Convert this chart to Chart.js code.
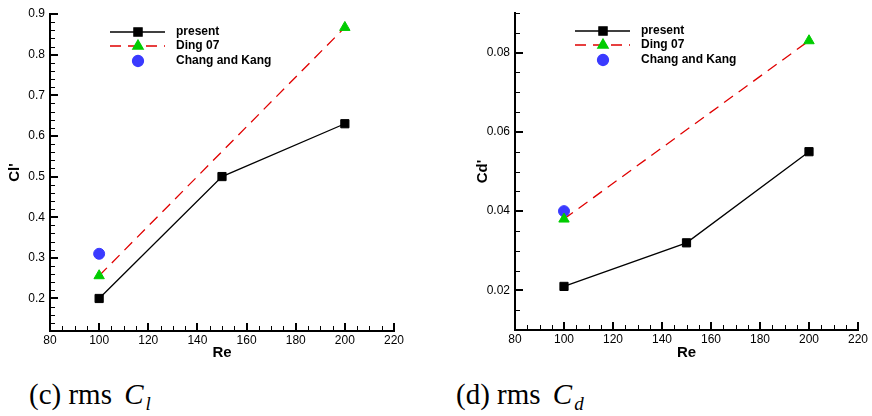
<!DOCTYPE html>
<html>
<head>
<meta charset="utf-8">
<script src="https://cdn.jsdelivr.net/npm/chart.js@4.4.0/dist/chart.umd.min.js"></script>
<style>
    html, body { margin: 0; padding: 0; background: #fff; }
    body { width: 872px; height: 416px; position: relative; overflow: hidden; }
    .box { position: absolute; top: 0; width: 436px; height: 365px; }
    .caption {
        position: absolute; top: 380px;
        font-family: 'Liberation Serif', 'DejaVu Serif', serif;
        font-size: 29px; line-height: 1; color: #000; white-space: nowrap;
    }
    .caption i { margin-left: 5px; }
    .caption sub { font-size: 19px; vertical-align: -6px; line-height: 0; margin-left: 2px; }
</style>
</head>
<body>
<div class="box" style="left:0"><canvas id="chart-cl"></canvas></div>
<div class="box" style="left:436px"><canvas id="chart-cd"></canvas></div>
<div class="caption" style="left:29px">(c) rms <i>C<sub>l</sub></i></div>
<div class="caption" style="left:456px">(d) rms <i>C<sub>d</sub></i></div>

<script>
// Re values of each series
const presentRe = [100, 150, 200];
const dingRe = [100, 200];
const changRe = [100];

// rms lift coefficient
const clPresent = [0.2, 0.5, 0.63];
const clDing = [0.256, 0.867];
const clChang = [0.31];

// rms drag coefficient
const cdPresent = [0.021, 0.032, 0.055];
const cdDing = [0.038, 0.083];
const cdChang = [0.040];

// labelled ticks
const reTicks = [80, 100, 120, 140, 160, 180, 200, 220];
const clTicks = [0.2, 0.3, 0.4, 0.5, 0.6, 0.7, 0.8, 0.9];
const cdTicks = [0.02, 0.04, 0.06, 0.08];

const seriesNames = ['present', 'Ding 07', 'Chang and Kang'];

const SANS = "'Liberation Sans', Arial, Helvetica, sans-serif";
Chart.defaults.color = '#000';
Chart.defaults.font.family = SANS;

const toPoints = (xs, ys) => xs.map((x, i) => ({ x: x, y: ys[i] }));

// all tick positions (major + minor), labels only on the major ones
function buildTicks(scale, step) {
    const ticks = [];
    const n = Math.round((scale.max - scale.min) / step);
    for (let i = 0; i <= n; i++) {
        ticks.push({ value: +(scale.min + i * step).toFixed(6) });
    }
    scale.ticks = ticks;
}

function isMajor(value, majors) {
    return majors.some(m => Math.abs(m - value) < 1e-6);
}

// Tecplot style ticks pointing into the plot
const innerTicks = {
    id: 'innerTicks',
    beforeDatasetsDraw(chart) {
        const { ctx, chartArea: a, scales: { x, y } } = chart;
        ctx.save();
        ctx.strokeStyle = '#000';
        x.ticks.forEach(t => {
            const major = t.label !== '';
            const px = Math.round(x.getPixelForValue(t.value)) + (major ? 0 : 0.5);
            ctx.lineWidth = major ? 2 : 1;
            ctx.beginPath();
            ctx.moveTo(px, a.bottom);
            ctx.lineTo(px, a.bottom - (major ? 8 : 5));
            ctx.stroke();
        });
        y.ticks.forEach(t => {
            const major = t.label !== '';
            const py = Math.round(y.getPixelForValue(t.value)) + (major ? 0 : 0.5);
            ctx.lineWidth = major ? 2 : 1;
            ctx.beginPath();
            ctx.moveTo(a.left, py);
            ctx.lineTo(a.left + (major ? 8 : 5), py);
            ctx.stroke();
        });
        ctx.restore();
    }
};

// legend box in the upper left of the plot
const legendRows = [18, 32, 47];
const plotLegend = {
    id: 'plotLegend',
    afterDraw(chart) {
        const { ctx, chartArea: a } = chart;
        ctx.save();
        chart.data.datasets.forEach((ds, i) => {
            const y = a.top + legendRows[i];
            const x0 = a.left + 60, x1 = a.left + 115, xm = a.left + 88;
            if (ds.showLine !== false) {
                ctx.strokeStyle = ds.borderColor;
                ctx.lineWidth = ds.borderWidth;
                ctx.setLineDash(ds.borderDash || []);
                ctx.beginPath();
                ctx.moveTo(x0, y);
                ctx.lineTo(x1, y);
                ctx.stroke();
                ctx.setLineDash([]);
            }
            ctx.fillStyle = ds.pointBackgroundColor;
            ctx.strokeStyle = ds.pointBorderColor;
            Chart.helpers.drawPoint(ctx, {
                pointStyle: ds.pointStyle, radius: ds.pointRadius, borderWidth: 1, rotation: 0
            }, xm, y);
            ctx.fillStyle = '#000';
            ctx.font = 'bold 12px ' + SANS;
            ctx.textBaseline = 'middle';
            ctx.textAlign = 'left';
            ctx.fillText(ds.label, a.left + 126, y);
        });
        ctx.restore();
    }
};

function makeChart(id, cfg) {
    const ctx = document.getElementById(id).getContext('2d');
    return new Chart(ctx, {
        type: 'line',
        data: {
            datasets: [{
                label: seriesNames[0],
                data: toPoints(presentRe, cfg.present),
                borderColor: '#000',
                borderWidth: 1.3,
                pointStyle: 'rect',
                pointRadius: 5.8,
                pointBackgroundColor: '#000',
                pointBorderColor: '#000',
                pointBorderWidth: 1
            }, {
                label: seriesNames[1],
                data: toPoints(dingRe, cfg.ding),
                borderColor: '#e00000',
                borderWidth: 1.3,
                borderDash: [11, 7],
                pointStyle: 'triangle',
                pointRadius: 6,
                pointBackgroundColor: '#00cc00',
                pointBorderColor: '#00cc00',
                pointBorderWidth: 1
            }, {
                label: seriesNames[2],
                data: toPoints(changRe, cfg.chang),
                showLine: false,
                borderColor: '#3a3aff',
                pointStyle: 'circle',
                pointRadius: 5.5,
                pointBackgroundColor: '#3a3aff',
                pointBorderColor: '#3a3aff',
                pointBorderWidth: 1
            }]
        },
        options: {
            responsive: true,
            maintainAspectRatio: false,
            animation: false,
            events: [],
            layout: { padding: { top: cfg.padTop, right: cfg.padRight, left: 0, bottom: 0 } },
            plugins: { legend: { display: false }, tooltip: { enabled: false } },
            scales: {
                x: {
                    type: 'linear',
                    min: 80,
                    max: 220,
                    afterBuildTicks: s => buildTicks(s, 5),
                    afterFit: s => { s.height = cfg.xHeight; },
                    grid: { display: false, drawTicks: false },
                    border: { display: true, color: '#000', width: 2 },
                    ticks: {
                        autoSkip: false,
                        maxRotation: 0,
                        padding: 2,
                        font: { size: 12 },
                        callback: v => isMajor(v, reTicks) ? String(Math.round(v)) : ''
                    },
                    title: {
                        display: true,
                        text: 'Re',
                        font: { size: 15, weight: 'bold' },
                        padding: { top: 0, bottom: 3 }
                    }
                },
                y: {
                    type: 'linear',
                    min: cfg.yMin,
                    max: cfg.yMax,
                    afterBuildTicks: s => buildTicks(s, cfg.yStep),
                    afterFit: s => { s.width = cfg.yWidth; },
                    grid: { display: false, drawTicks: false },
                    border: { display: true, color: '#000', width: 2 },
                    ticks: {
                        autoSkip: false,
                        padding: 5,
                        font: { size: 12 },
                        callback: v => isMajor(v, cfg.majors) ? v.toFixed(cfg.decimals) : ''
                    },
                    title: {
                        display: true,
                        text: cfg.yTitle,
                        font: { size: 15, weight: 'bold' },
                        padding: { top: cfg.titlePad, bottom: 0 }
                    }
                }
            }
        },
        plugins: [innerTicks, plotLegend]
    });
}

makeChart('chart-cl', {
    present: clPresent, ding: clDing, chang: clChang,
    yMin: 0.12, yMax: 0.9, yStep: 0.02, majors: clTicks, decimals: 1,
    yTitle: "Cl'", titlePad: 6,
    padTop: 14, padRight: 42, yWidth: 50, xHeight: 34
});

makeChart('chart-cd', {
    present: cdPresent, ding: cdDing, chang: cdChang,
    yMin: 0.01, yMax: 0.09, yStep: 0.005, majors: cdTicks, decimals: 2,
    yTitle: "Cd'", titlePad: 38,
    padTop: 13, padRight: 14, yWidth: 79, xHeight: 35
});
</script>
</body>
</html>
